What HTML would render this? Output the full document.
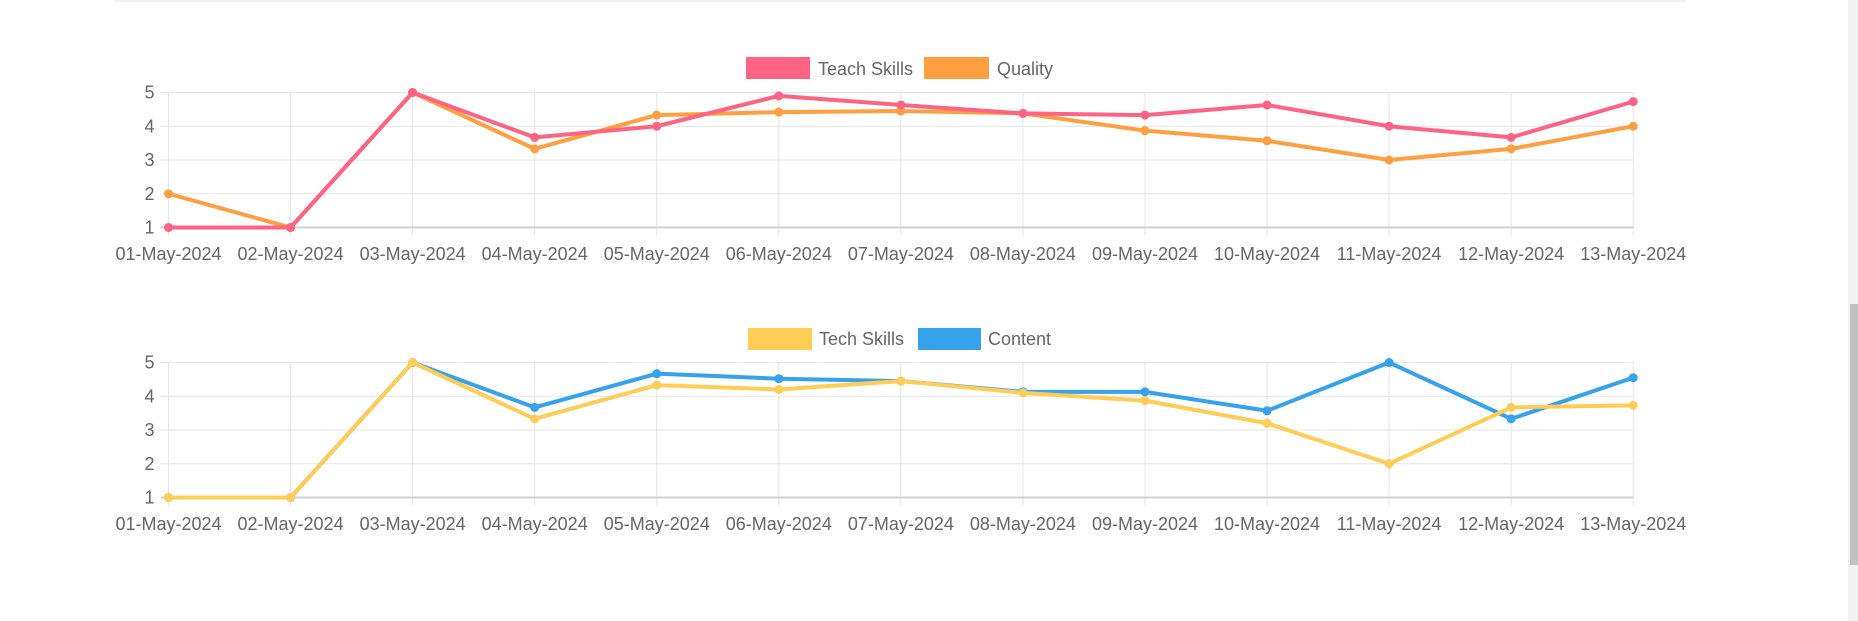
<!DOCTYPE html>
<html><head><meta charset="utf-8"><style>
html,body{margin:0;padding:0;background:#fff;width:1858px;height:621px;overflow:hidden}
svg{position:absolute;left:0;top:0}
text{font-family:"Liberation Sans",sans-serif;fill:#666}
</style></head><body>
<svg id="s" width="1858" height="621" xmlns="http://www.w3.org/2000/svg">
<rect x="115" y="0" width="1572" height="2" fill="#f3f3f3"/>
<rect x="1848" y="0" width="10" height="621" fill="#f1f1f1"/>
<rect x="1850" y="304" width="8" height="261" fill="#c1c1c1"/>
<rect x="746" y="57" width="64" height="22" fill="#ff6384"/>
<text x="818" y="75" font-size="18">Teach Skills</text>
<rect x="924" y="57" width="65" height="22" fill="#ff9f40"/>
<text x="997" y="75" font-size="18">Quality</text>
<rect x="748" y="328" width="64" height="22" fill="#ffcd56"/>
<text x="819" y="345" font-size="18">Tech Skills</text>
<rect x="918" y="328" width="63" height="22" fill="#36a2eb"/>
<text x="988" y="345" font-size="18">Content</text>
</svg>
<script>
var s=document.getElementById('s'),NS='http://www.w3.org/2000/svg';
function el(t,a,txt){var e=document.createElementNS(NS,t);for(var k in a)e.setAttribute(k,a[k]);if(txt)e.textContent=txt;s.appendChild(e);return e;}
var x0=168.5,dx=122.06;
function chart(top,bot,series,labY){
 var st=(bot-top)/4;
 for(var i=0;i<13;i++){var x=x0+i*dx;el('line',{x1:x,x2:x,y1:top,y2:bot+8,stroke:'#e5e5e5','stroke-width':1});
  var d=(i+1<10?'0':'')+(i+1);el('text',{x:x,y:labY,'font-size':18,'text-anchor':'middle'},d+'-May-2024');}
 for(var j=0;j<5;j++){var y=top+j*st;el('line',{x1:x0-8,x2:x0+12*dx,y1:y,y2:y,stroke:j==4?'#d0d0d0':'#e5e5e5','stroke-width':j==4?2:1});
  el('text',{x:x0-14,y:y+6,'font-size':18,'text-anchor':'end'},String(5-j));}
 series.forEach(function(sr){var pts=sr.d.map(function(v,i){return [x0+i*dx,bot-(v-1)*st];});
  el('polyline',{points:pts.map(function(p){return p.join(',')}).join(' '),fill:'none',stroke:sr.c,'stroke-width':4,'stroke-linejoin':'round'});
  pts.forEach(function(p){el('circle',{cx:p[0],cy:p[1],r:4.5,fill:sr.c});});});
}
chart(92.5,227.5,[{c:'#ff9f40',d:[2,1,5,3.33,4.33,4.42,4.45,4.38,3.87,3.57,3,3.33,4]},{c:'#ff6384',d:[1,1,5,3.67,4,4.9,4.63,4.38,4.33,4.63,4,3.67,4.73]}],260);
chart(362.5,497.5,[{c:'#36a2eb',d:[1,1,5,3.67,4.67,4.52,4.45,4.13,4.13,3.57,5,3.33,4.55]},{c:'#ffcd56',d:[1,1,5,3.33,4.33,4.2,4.45,4.1,3.87,3.2,2,3.67,3.73]}],530);
</script>
</body></html>
